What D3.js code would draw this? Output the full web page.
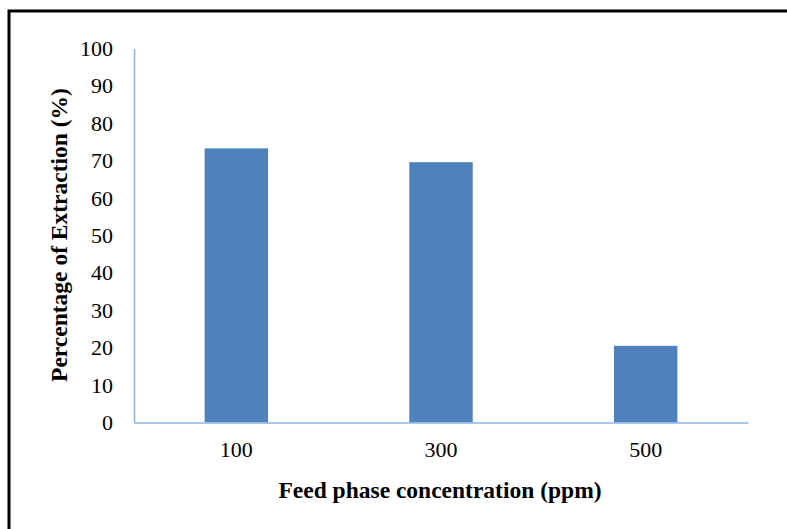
<!DOCTYPE html>
<html>
<head>
<meta charset="utf-8">
<script src="https://cdn.jsdelivr.net/npm/d3@7"></script>
<style>
  body { margin: 0; background: #fff; }
</style>
</head>
<body>
<div id="chart"></div>
<script>
// chart data
var categories = ["100", "300", "500"];
var extraction = [73.3, 69.6, 20.5];
var yTicks = [0, 10, 20, 30, 40, 50, 60, 70, 80, 90, 100];

var w = 787;
var h = 529;
var margin = { left: 134, right: 39, top: 48.5, bottom: 106.5 };

var svg = d3.select("#chart")
    .append("svg")
    .attr("width", w)
    .attr("height", h);

// frame (only top and left edges are visible)
svg.append("path")
    .attr("d", "M9,529 V11 H787")
    .attr("fill", "none")
    .attr("stroke", "#000")
    .attr("stroke-width", 3);

var xScale = d3.scaleBand()
    .domain(categories)
    .range([margin.left, w - margin.right])
    .paddingInner(0.69)
    .paddingOuter(0.345);

var yScale = d3.scaleLinear()
    .domain([0, 100])
    .range([h - margin.bottom, margin.top]);

// bars
svg.selectAll("rect.bar")
    .data(extraction)
    .enter()
    .append("rect")
    .attr("class", "bar")
    .attr("x", function (d, i) { return xScale(categories[i]); })
    .attr("y", function (d) { return yScale(d); })
    .attr("width", xScale.bandwidth())
    .attr("height", function (d) { return yScale(0) - yScale(d); })
    .attr("fill", "#4f81bd");

// y axis
var yAxis = d3.axisLeft(yScale)
    .tickValues(yTicks)
    .tickSize(0)
    .tickPadding(21);

var gy = svg.append("g")
    .attr("transform", "translate(" + margin.left + ",0)")
    .call(yAxis);
gy.select(".domain").attr("stroke", "#8db3e2").attr("stroke-width", 1.5);
gy.selectAll("text")
    .attr("font-family", "'Liberation Serif', 'Times New Roman', serif")
    .attr("font-size", "22px")
    .attr("fill", "#000");

// x axis
var xAxis = d3.axisBottom(xScale)
    .tickSize(0)
    .tickPadding(19);

var gx = svg.append("g")
    .attr("transform", "translate(0," + (h - margin.bottom) + ")")
    .call(xAxis);
gx.select(".domain").attr("stroke", "#8db3e2").attr("stroke-width", 1.5);
gx.selectAll("text")
    .attr("font-family", "'Liberation Serif', 'Times New Roman', serif")
    .attr("font-size", "22px")
    .attr("fill", "#000");

// axis titles
svg.append("text")
    .attr("x", 440)
    .attr("y", 498)
    .attr("text-anchor", "middle")
    .attr("font-family", "'Liberation Serif', 'Times New Roman', serif")
    .attr("font-weight", "bold")
    .attr("font-size", "23.5px")
    .text("Feed phase concentration (ppm)");

svg.append("text")
    .attr("transform", "translate(67,235) rotate(-90)")
    .attr("text-anchor", "middle")
    .attr("font-family", "'Liberation Serif', 'Times New Roman', serif")
    .attr("font-weight", "bold")
    .attr("font-size", "23.5px")
    .text("Percentage of Extraction (%)");
</script>
</body>
</html>
